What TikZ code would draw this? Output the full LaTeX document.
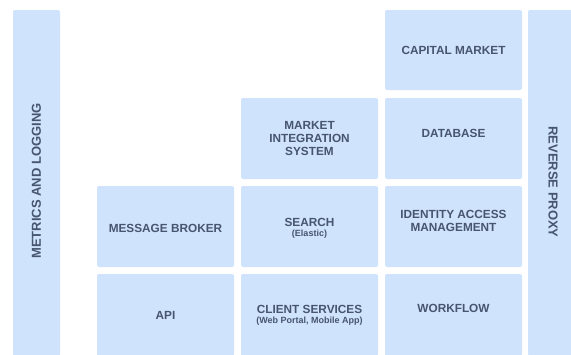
\documentclass[tikz,border=0pt]{standalone}
\usepackage{fontspec}
\setmainfont{Liberation Sans}
\definecolor{tilefill}{HTML}{CFE3FC}
\definecolor{tiletext}{HTML}{47556F}
\tikzset{
  tile/.style={fill=tilefill,rounded corners=2pt,inner sep=0pt},
  caption/.style={text=tiletext,font=\bfseries\fontsize{11.8}{13}\selectfont,align=center,inner sep=0pt},
  sidecaption/.style={caption,font=\bfseries\fontsize{13}{14}\selectfont},
  subcaption/.style={text=tiletext,font=\bfseries\fontsize{9}{10}\selectfont,align=center,inner sep=0pt}
}
\begin{document}
\begin{tikzpicture}[x=1pt,y=-1pt]
		\useasboundingbox (0,0) rectangle (571,354);
		% Side bars
		\node[tile,minimum width=47pt,minimum height=346pt] (metrics) at (36.5,183) {};
		\node[sidecaption,rotate=90] (metricstext) at (36.5,181) {METRICS AND LOGGING};
		\node[tile,minimum width=47pt,minimum height=346pt] (proxy) at (551.5,183) {};
		\node[sidecaption,rotate=-90] (proxytext) at (553,182) {REVERSE PROXY};
		% Top row
		\node[tile,minimum width=137pt,minimum height=80pt] (capital) at (453.5,50) {};
		\node[caption] (capitaltext) at (capital) {CAPITAL MARKET};
		% Second row
		\node[tile,minimum width=137pt,minimum height=81pt] (integration) at (309.5,138.5) {};
		\node[caption] (integrationtext) at (integration) {MARKET\\INTEGRATION\\SYSTEM};
		\node[tile,minimum width=137pt,minimum height=81pt] (database) at (453.5,138.5) {};
		\node[caption] (databasetext) at ([yshift=5.5pt]database.center) {DATABASE};
		% Third row
		\node[tile,minimum width=137pt,minimum height=81pt] (broker) at (165.5,226.5) {};
		\node[caption] (brokertext) at ([yshift=-1.5pt]broker.center) {MESSAGE BROKER};
		\node[tile,minimum width=137pt,minimum height=81pt] (search) at (309.5,226.5) {};
		\node[caption] (searchtext) at ([yshift=4.5pt]search.center) {SEARCH};
		\node[subcaption] (elastic) at ([yshift=-12pt]searchtext.center) {(Elastic)};
		\node[tile,minimum width=137pt,minimum height=81pt] (identity) at (453.5,226.5) {};
		\node[caption] (identitytext) at ([yshift=5.5pt]identity.center) {IDENTITY ACCESS\\MANAGEMENT};
		% Bottom row
		\node[tile,minimum width=137pt,minimum height=82pt] (api) at (165.5,315) {};
		\node[caption] (apitext) at (api) {API};
		\node[tile,minimum width=137pt,minimum height=82pt] (client) at (309.5,315) {};
		\node[caption] (clienttext) at ([yshift=6pt]client.center) {CLIENT SERVICES};
		\node[subcaption] (portal) at ([yshift=-12pt]clienttext.center) {(Web Portal, Mobile App)};
		\node[tile,minimum width=137pt,minimum height=82pt] (workflow) at (453.5,315) {};
		\node[caption] (workflowtext) at ([yshift=7pt]workflow.center) {WORKFLOW};
\end{tikzpicture}
\end{document}
